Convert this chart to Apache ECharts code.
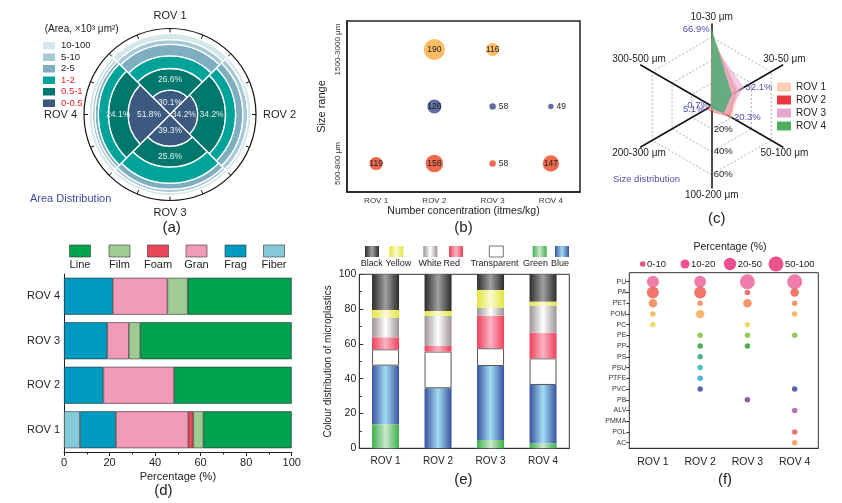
<!DOCTYPE html>
<html><head><meta charset="utf-8">
<script src="https://cdn.jsdelivr.net/npm/echarts@6/dist/echarts.min.js"></script>
<style>html,body{margin:0;padding:0;background:#fff}#c{width:842px;height:503px}</style>
</head><body><div id="c"></div>
<script>
// ================= DATA =================
const rovs = ['ROV 1', 'ROV 2', 'ROV 3', 'ROV 4'];

// (a) Area distribution (%), inner ring -> outer ring
const areaBins = ['0-0.5', '0.5-1', '1-2', '2-5', '5-10', '10-100'];
const area_0_05   = [30.1, 34.2, 39.3, 51.8];
const area_05_1   = [26.6, 34.2, 25.6, 24.1];
const area_1_2    = [15.5, 12.5, 20.0, 12.5];
const area_2_5    = [14.2, 9.0, 7.5, 4.0];
const area_5_10   = [6.0, 6.0, 4.0, 3.5];
const area_10_100 = [7.6, 4.1, 3.6, 4.1];

// (b) Number concentration (items/kg) by size range
const sizeRanges = ['500-800 μm', '800-1500 μm', '1500-3000 μm'];
const conc_500_800   = [119, 158, 58, 147];
const conc_800_1500  = [null, 126, 58, 49];
const conc_1500_3000 = [null, 190, 116, null];

// (c) Size distribution (%)
const sizeBins = ['10-30 μm', '30-50 μm', '50-100 μm', '100-200 μm', '200-300 μm', '300-500 μm'];
const sd_rov1 = [60.0, 27.0, 20.3, 3.0, 3.0, 0.5];
const sd_rov2 = [62.0, 25.0, 18.0, 5.0, 5.1, 0.7];
const sd_rov3 = [55.0, 32.1, 15.0, 3.0, 2.0, 0.3];
const sd_rov4 = [66.9, 20.0, 12.0, 2.0, 1.5, 0.2];

// (d) Shape percentage (%)
const shapes = ['Fiber', 'Frag', 'Gran', 'Foam', 'Film', 'Line'];
const shape_Fiber = [7.0, 0, 0, 0];
const shape_Frag  = [15.8, 17.3, 19.0, 21.4];
const shape_Gran  = [31.8, 31.0, 9.5, 24.0];
const shape_Foam  = [2.2, 0, 0, 0];
const shape_Film  = [4.4, 0, 5.0, 8.9];
const shape_Line  = [38.8, 51.7, 66.5, 45.7];

// (e) Colour distribution (%)
const colours = ['Green', 'Blue', 'Transparent', 'Red', 'White', 'Yellow', 'Black'];
const col_Green       = [13.8, 0, 4.8, 2.9];
const col_Blue        = [33.7, 34.5, 42.5, 33.5];
const col_Transparent = [9.4, 21.1, 10.2, 15.3];
const col_Red         = [6.9, 3.2, 18.7, 14.8];
const col_White       = [11.3, 17.3, 4.6, 15.5];
const col_Yellow      = [4.4, 2.8, 10.2, 2.3];
const col_Black       = [20.5, 21.1, 9.0, 15.7];

// (f) Polymer percentage (%)
const polymers = ['PU','PA','PET','POM','PC','PE','PP','PS','PSU','PTFE','PVC','PB','ALV','PMMA','POL','AC'];
const poly_rov1 = [30, 30, 15, 5, 5, null, null, null, null, null, null, null, null, null, null, null];
const poly_rov2 = [25, 30, 5, 12, null, 4, 4, 4, 4, 4, 4, null, null, null, null, null];
const poly_rov3 = [55, 5, 12, null, 5, 5, 5, null, null, null, null, 4, null, null, null, null];
const poly_rov4 = [55, 12, 5, 5, null, 5, null, null, null, null, 4, null, 4, null, 4, 4];
const pctBins = ['0-10', '10-20', '20-50', '50-100'];

// ================= STYLE =================
const FONT = '"Liberation Sans", Arial, sans-serif';
const areaColors = ['#3c5a80', '#00776d', '#00a39a', '#7eaec0', '#a6c9d4', '#d4e7ea'];
const bubbleColors = ['#ee6a4d', '#5d6e9f', '#fdbb64'];
const rvColors = ['#fbcdb6', '#e8383d', '#e6a6d0', '#4fae5e'];
const rvAreaColors = ['#fbcdb6', '#e8383d', '#e6a6d0', '#48ad78'];
const rvOpacity = [0.7, 0.3, 0.55, 0.82];
const rvLabelPos = ['right', 'left', 'right', 'left'];
const rvLabelShow = [[20.3], [5.1, 0.7], [32.1], [66.9]];
const rvNameAlign = {
  '30-50 μm': {align:'center', verticalAlign:'bottom'},
  '300-500 μm': {align:'center', verticalAlign:'bottom'},
  '50-100 μm': {align:'center', verticalAlign:'top'},
  '200-300 μm': {align:'center', verticalAlign:'top'}
};
const shapeColors = {Fiber:'#86c9d8', Frag:'#0099c0', Gran:'#f29bb8', Foam:'#e8475c', Film:'#9fcc92', Line:'#00a14f'};
const grad = (e, m) => ({type:'linear', x:0, y:0, x2:1, y2:0, colorStops:[{offset:0,color:e},{offset:0.5,color:m},{offset:1,color:e}]});
const colourFill = {
  Green: grad('#3cb04c', '#cde8cd'), Blue: grad('#3a52a0', '#a2dcf2'), Transparent: '#ffffff',
  Red: grad('#f0405a', '#f8b4c4'), White: grad('#9c9494', '#ffffff'), Yellow: grad('#e4e43c', '#fafad2'),
  Black: grad('#2c2c2c', '#a0a0a0')
};
const polyColors = ['#ee72a4','#ef6a60','#f58c5c','#f9b25e','#e9d85c','#8cc84e','#3ea846','#3eae8c','#3ebac0','#3ea8e2','#4858a8','#8250a2','#b263b2','#999999','#f06674','#f7a064'];
const pctSize = v => v >= 50 ? 15 : v >= 20 ? 12 : v >= 10 ? 8.5 : 5.5;

// ================= BUILD =================
const areaData = [area_0_05, area_05_1, area_1_2, area_2_5, area_5_10, area_10_100];
const concData = [conc_500_800, conc_800_1500, conc_1500_3000];
const sdData = [sd_rov1, sd_rov2, sd_rov3, sd_rov4];
const rvOrder = [0, 5, 4, 3, 2, 1]; // radar runs counter-clockwise; reorder to read clockwise from top
const shapeData = {Fiber:shape_Fiber, Frag:shape_Frag, Gran:shape_Gran, Foam:shape_Foam, Film:shape_Film, Line:shape_Line};
const colourData = {Green:col_Green, Blue:col_Blue, Transparent:col_Transparent, Red:col_Red, White:col_White, Yellow:col_Yellow, Black:col_Black};
const polyData = [poly_rov1, poly_rov2, poly_rov3, poly_rov4];

const series = [];
// (a)
areaBins.forEach((b, i) => {
  series.push({
    type:'bar', name:b, coordinateSystem:'polar', polarIndex:0, stack:'area',
    data: areaData[i], barCategoryGap:'0%',
    itemStyle:{color:areaColors[i], borderColor:'#fff', borderWidth:1.3},
    label: i < 2 ? {show:true, position:'middle', rotate:0, formatter:'{c}%', color:'#e3f2ee', fontSize:8.5} : {show:false}
  });
});
// (b)
sizeRanges.forEach((s, j) => {
  series.push({
    type:'scatter', name:s, xAxisIndex:0, yAxisIndex:0,
    data: concData[j].map((v, i) => v == null ? null : {
      value:[rovs[i], s, v],
      label:{show:true, position: v > 100 ? 'inside' : 'right', distance:3}
    }).filter(Boolean),
    symbolSize: d => d[2] / 9,
    itemStyle:{color:bubbleColors[j], opacity:1},
    label:{show:true, formatter: p => p.data.value[2], color:'#222', fontSize:8.5}
  });
});
// (c)
series.push({
  type:'radar', radarIndex:0, symbol:'circle', symbolSize:0.1,
  data: sdData.map((arr, i) => ({
    name: rovs[i], value: rvOrder.map(k => arr[k]),
    itemStyle:{color:rvColors[i]},
    lineStyle:{color:rvColors[i], width:0.6, opacity:0.7},
    areaStyle:{color:rvAreaColors[i], opacity:rvOpacity[i]},
    label:{show:true, position:rvLabelPos[i], distance:2, color:'#4a50a3', fontSize:9.5,
      formatter: p => (typeof p.value === 'number' && rvLabelShow[i].indexOf(p.value) >= 0) ? p.value + '%' : ''}
  }))
});
// (d)
shapes.forEach(s => {
  series.push({
    type:'bar', name:s, xAxisIndex:1, yAxisIndex:1, stack:'shape', barCategoryGap:'17%',
    data: shapeData[s].map(v => v || null),
    itemStyle:{color:shapeColors[s], borderColor:'#333', borderWidth:0.6}
  });
});
// (e)
colours.forEach(c => {
  series.push({
    type:'bar', name:c, xAxisIndex:2, yAxisIndex:2, stack:'colour', barWidth:27,
    data: colourData[c].map(v => v || null),
    itemStyle: c === 'Transparent' ? {color:'#fff', borderColor:'#555', borderWidth:1} : {color:colourFill[c]}
  });
});
// (f)
polyData.forEach((arr, r) => {
  series.push({
    type:'scatter', name:'poly' + r, xAxisIndex:3, yAxisIndex:3,
    data: arr.map((v, k) => v == null ? null : [rovs[r], polymers[k], v]).filter(Boolean),
    symbolSize: d => pctSize(d[2]),
    itemStyle:{color: p => polyColors[polymers.indexOf(p.data[1])], opacity:0.92}
  });
});

// ---- graphic (legends, captions) ----
const gfx = [];
const txt = (x, y, t, o) => gfx.push({type:'text', x:x, y:y, silent:true,
  style:Object.assign({text:t, fill:'#222', fontSize:11, fontFamily:FONT, align:'center', verticalAlign:'middle'}, o || {})});
txt(171.7, 227.5, '(a)', {fontSize:15});
txt(463.5, 228, '(b)', {fontSize:15});
txt(716.7, 218.5, '(c)', {fontSize:15});
txt(163.3, 490.5, '(d)', {fontSize:15});
txt(463.3, 480, '(e)', {fontSize:15});
txt(725, 480, '(f)', {fontSize:15});
txt(81.7, 29.3, '(Area, ×10³ μm²)', {fontSize:10});
txt(30, 199, 'Area Distribution', {fontSize:11, fill:'#3c4da0', align:'left'});
txt(613, 179, 'Size distribution', {fontSize:9.5, fill:'#4a55a8', align:'left'});

// (d) legend
const shapeLegend = ['Line', 'Film', 'Foam', 'Gran', 'Frag', 'Fiber'];
const shapeLegendX = [80, 119.5, 158, 196.5, 235.5, 274];
shapeLegend.forEach((s, i) => {
  gfx.push({type:'rect', silent:true, shape:{x:shapeLegendX[i] - 10.5, y:245, width:21, height:12},
    style:{fill:shapeColors[s], stroke:'#333', lineWidth:0.6}});
  txt(shapeLegendX[i], 265, s, {fontSize:11});
});
// (e) legend
const colourLegend = ['Black', 'Yellow', 'White', 'Red', 'Transparent', 'Green', 'Blue'];
const colourBoxX = [372, 396.3, 430.3, 456, 496.3, 539.7, 562];
const colourTextX = [371.7, 398.3, 430, 451.7, 494.5, 535.5, 560];
colourLegend.forEach((c, i) => {
  gfx.push({type:'rect', silent:true, shape:{x:colourBoxX[i] - 7, y:246, width:14, height:11},
    style:{fill:colourFill[c], stroke: c === 'Transparent' ? '#555' : null, lineWidth:0.8}});
  txt(colourTextX[i], 264, c, {fontSize:9});
});
// (f) legend
txt(730, 247, 'Percentage (%)', {fontSize:10.5});
const pctLegendX = [642.7, 685, 730, 776];
const pctLegendR = [2.8, 4.5, 6.2, 7.5];
pctBins.forEach((b, i) => {
  gfx.push({type:'circle', silent:true, shape:{cx:pctLegendX[i], cy:264, r:pctLegendR[i]}, style:{fill:'#e9528e'}});
  txt(pctLegendX[i] + pctLegendR[i] + 1.5, 264, b, {fontSize:9.5, align:'left'});
});

const option = {
  animation:false,
  textStyle:{fontFamily:FONT},
  polar:[
    {center:[170, 114.5], radius:86},
    {center:[170, 114.5], radius:86}
  ],
  angleAxis:[
    {polarIndex:0, type:'category', data:rovs, startAngle:135, clockwise:true,
      axisLine:{show:false}, axisTick:{show:false}, splitLine:{show:false},
      axisLabel:{fontSize:11, color:'#222', margin:7}},
    {polarIndex:1, type:'value', min:0, max:360, interval:22.5, startAngle:90,
      axisLine:{show:true, lineStyle:{color:'#111', width:1.2}},
      axisTick:{show:true, inside:true, length:4, lineStyle:{color:'#111', width:1}},
      axisLabel:{show:false}, splitLine:{show:false}}
  ],
  radiusAxis:[
    {polarIndex:0, type:'value', min:0, max:106, show:false, splitLine:{show:false}},
    {polarIndex:1, type:'value', min:0, max:1, show:false, splitLine:{show:false}}
  ],
  radar:[
    {center:[711.7, 106], radius:68.7, startAngle:90, shape:'polygon', splitNumber:3,
      indicator: rvOrder.map(k => {
        const ind = {name:sizeBins[k], min:0, max:60};
        if (k === 3) ind.axisLabel = {show:true, showMinLabel:false, fontSize:9.5, color:'#222', margin:2, formatter: v => v + '%'};
        return ind;
      }),
      axisName:{show:false},
      axisLine:{show:false}, axisTick:{show:false}, axisLabel:{show:false},
      splitArea:{show:false}, splitLine:{lineStyle:{color:'#9a9a9a', width:0.8, type:[2, 2]}}},
    {center:[711.7, 106], radius:82, startAngle:90, shape:'polygon', splitNumber:1,
      indicator: rvOrder.map(k => {
        const ind = {name:sizeBins[k], min:0, max:72};
        if (rvNameAlign[sizeBins[k]]) ind.nameTextStyle = rvNameAlign[sizeBins[k]];
        return ind;
      }),
      axisName:{show:true, color:'#222', fontSize:10}, nameGap:2,
      axisLine:{lineStyle:{color:'#111', width:1.5}}, splitLine:{show:false}, splitArea:{show:false}, axisLabel:{show:false}}
  ],
  legend:[
    {left:41, top:40, orient:'vertical', icon:'rect', itemWidth:14, itemHeight:9.5, itemGap:0, padding:0,
      selectedMode:false, textStyle:{fontSize:9.5, lineHeight:10, color:'#222'},
      data: areaBins.slice().reverse().map((n, i) => ({name:n, textStyle:{color: i >= 3 ? '#e0262a' : '#222'}}))},
    {left:777, top:82, orient:'vertical', icon:'rect', itemWidth:14, itemHeight:9, itemGap:3, padding:0,
      selectedMode:false, textStyle:{fontSize:10, lineHeight:10, color:'#222'}, data:rovs}
  ],
  grid:[
    {left:347, right:262, top:21, height:171, show:true, borderColor:'#222', borderWidth:1.5},
    {left:64, right:550.3, top:274, bottom:51},
    {left:359.3, right:272.7, top:274.3, bottom:54.7, show:true, borderColor:'#333', borderWidth:1},
    {left:629.3, right:23.7, top:281.7, bottom:60.3},
    {left:629.3, right:23.7, top:272.7, bottom:54.7, show:true, borderColor:'#333', borderWidth:1}
  ],
  xAxis:[
    {gridIndex:0, type:'category', data:rovs,
      axisLine:{lineStyle:{color:'#222', width:1.5}}, axisTick:{alignWithLabel:true, length:3, lineStyle:{color:'#222'}},
      axisLabel:{fontSize:8, color:'#333', margin:5},
      name:'Number concentration (itmes/kg)', nameLocation:'middle', nameGap:14, nameTextStyle:{fontSize:10.5, color:'#222'}},
    {gridIndex:1, type:'value', min:0, max:100, interval:20,
      axisLine:{show:true, lineStyle:{color:'#222'}}, axisTick:{show:true, length:4, lineStyle:{color:'#222'}},
      minorTick:{show:true, splitNumber:2, length:2.5, lineStyle:{color:'#222'}},
      splitLine:{show:false}, axisLabel:{fontSize:11, color:'#222', margin:5},
      name:'Percentage (%)', nameLocation:'middle', nameGap:19, nameTextStyle:{fontSize:11, color:'#222'}},
    {gridIndex:2, type:'category', data:rovs,
      axisLine:{lineStyle:{color:'#333'}}, axisTick:{show:false},
      axisLabel:{fontSize:10, color:'#222', margin:8}},
    {gridIndex:3, type:'category', data:rovs, show:false},
    {gridIndex:4, type:'category', data:rovs,
      axisLine:{lineStyle:{color:'#333'}}, axisTick:{show:false},
      axisLabel:{fontSize:10.5, color:'#222', margin:8}}
  ],
  yAxis:[
    {gridIndex:0, type:'category', data:sizeRanges,
      axisLine:{lineStyle:{color:'#222', width:1.5}}, axisTick:{alignWithLabel:true, length:3, lineStyle:{color:'#222'}},
      axisLabel:{rotate:90, fontSize:8, color:'#333', margin:5},
      name:'Size range', nameLocation:'middle', nameGap:20, nameTextStyle:{fontSize:11, color:'#222'}},
    {gridIndex:1, type:'category', data:rovs,
      axisLine:{lineStyle:{color:'#222'}}, axisTick:{length:3, lineStyle:{color:'#222'}},
      axisLabel:{fontSize:11, color:'#222', margin:4}},
    {gridIndex:2, type:'value', min:0, max:100, interval:20,
      axisLine:{show:true, lineStyle:{color:'#333'}}, axisTick:{show:true, inside:true, length:4, lineStyle:{color:'#333'}},
      minorTick:{show:true, splitNumber:2, length:2.5, lineStyle:{color:'#333'}},
      splitLine:{show:false}, axisLabel:{fontSize:10.5, color:'#222', margin:3},
      name:'Colour distribution of microplastics', nameLocation:'middle', nameGap:26, nameTextStyle:{fontSize:10, color:'#222'}},
    {gridIndex:3, type:'category', data:polymers, inverse:true, boundaryGap:false,
      axisLine:{show:false}, axisTick:{show:true, length:3, lineStyle:{color:'#333'}},
      axisLabel:{fontSize:7, color:'#333', margin:3}},
    {gridIndex:4, type:'value', min:0, max:1, show:false, splitLine:{show:false}}
  ],
  series:series,
  graphic:gfx
};

const chart = echarts.init(document.getElementById('c'), null, {renderer:'canvas', width:842, height:503});
chart.setOption(option);
</script>
</body></html>
